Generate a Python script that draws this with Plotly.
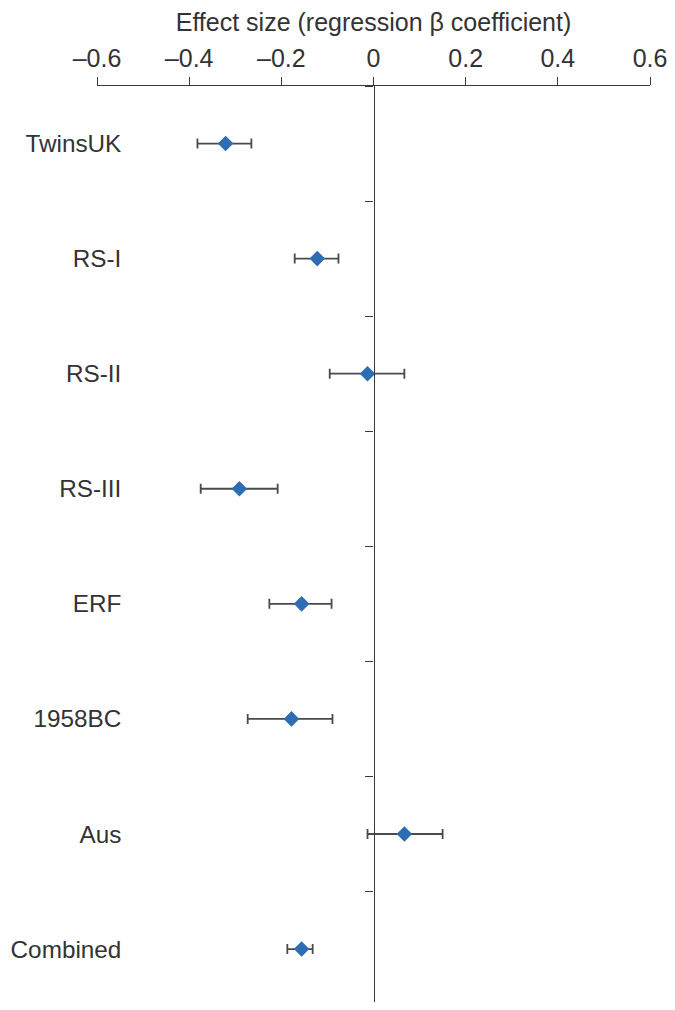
import plotly.graph_objects as go

# effect sizes
studies = ["TwinsUK", "RS-I", "RS-II", "RS-III", "ERF", "1958BC", "Aus", "Combined"]
beta = [-0.321, -0.122, -0.013, -0.291, -0.156, -0.178, 0.067, -0.156]
ci_low = [-0.382, -0.171, -0.095, -0.375, -0.226, -0.273, -0.013, -0.187]
ci_high = [-0.265, -0.076, 0.067, -0.208, -0.091, -0.089, 0.150, -0.132]

x_ticks = [-0.6, -0.4, -0.2, 0, 0.2, 0.4, 0.6]
x_tick_text = ["\u20130.6", "\u20130.4", "\u20130.2", "0", "0.2", "0.4", "0.6"]

err_plus = [h - b for b, h in zip(beta, ci_high)]
err_minus = [b - l for b, l in zip(beta, ci_low)]

font_name = "Liberation Sans, Arial, sans-serif"
text_col = "#333333"
line_col = "#3a3a3a"
y_range = [7.46, -0.5]

fig = go.Figure()

fig.add_trace(go.Scatter(
    x=beta, y=studies, mode="markers",
    marker=dict(symbol="diamond", size=12, color="#2f6db3"),
    error_x=dict(type="data", symmetric=False, array=err_plus, arrayminus=err_minus,
                 color="#4a4a4a", thickness=1.8, width=5),
    showlegend=False, hoverinfo="x+y",
))
# invisible copy so the label axis knows the categories
fig.add_trace(go.Scatter(
    x=beta, y=studies, yaxis="y2", mode="markers",
    marker=dict(opacity=0), showlegend=False, hoverinfo="skip",
))

# the page body adds 8px, so the figure is 8px smaller and margins shifted
fig.update_layout(
    width=667, height=1002,
    margin=dict(l=89, r=25, t=78, b=8),
    paper_bgcolor="white", plot_bgcolor="white",
    font=dict(family=font_name, size=25, color=text_col),
    xaxis=dict(
        side="top", range=[-0.6, 0.6], tickvals=x_ticks, ticktext=x_tick_text,
        ticks="outside", ticklen=8, tickwidth=1.3, tickcolor=line_col,
        showline=True, linecolor=line_col, linewidth=1.3,
        showgrid=False, zeroline=False, automargin=False,
        title=dict(text="Effect size (regression \u03b2 coefficient)", standoff=10,
                   font=dict(size=25)),
        tickfont=dict(size=25),
    ),
    # axis sitting at x = 0 with ticks between the studies
    yaxis=dict(
        type="category", categoryorder="array", categoryarray=studies,
        range=y_range, anchor="free", position=0.5, side="left",
        tickson="boundaries", ticks="outside", ticklen=8, tickwidth=1.3, tickcolor=line_col,
        showline=True, linecolor=line_col, linewidth=1.3,
        showticklabels=False, showgrid=False, zeroline=False, automargin=False,
    ),
    # study labels on the left
    yaxis2=dict(
        type="category", categoryorder="array", categoryarray=studies,
        overlaying="y", range=y_range, anchor="free", position=0.044, side="left",
        ticks="", showline=False, showgrid=False, zeroline=False, automargin=False,
        tickfont=dict(size=24.3),
    ),
)

fig.write_html("out.html")
